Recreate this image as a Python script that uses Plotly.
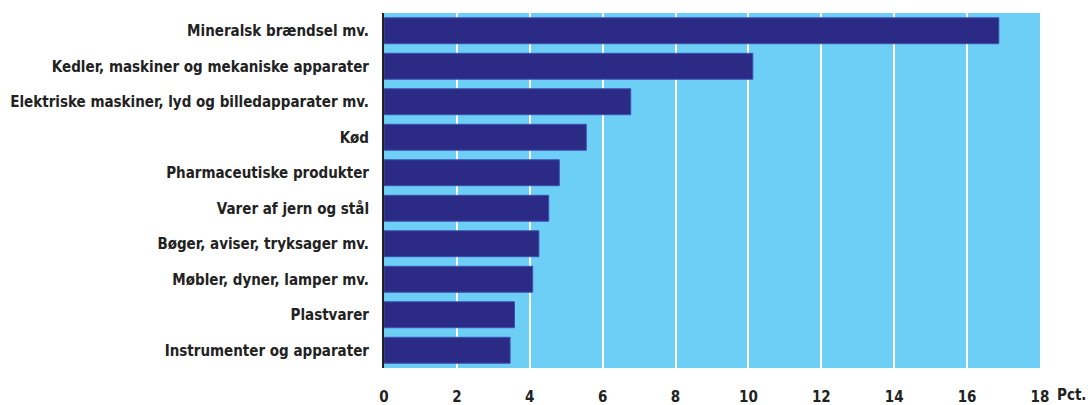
import plotly.graph_objects as go

categories = [
    "Mineralsk brændsel mv.",
    "Kedler, maskiner og mekaniske apparater",
    "Elektriske maskiner, lyd og billedapparater mv.",
    "Kød",
    "Pharmaceutiske produkter",
    "Varer af jern og stål",
    "Bøger, aviser, tryksager mv.",
    "Møbler, dyner, lamper mv.",
    "Plastvarer",
    "Instrumenter og apparater",
]
values = [16.87, 10.12, 6.77, 5.55, 4.81, 4.52, 4.25, 4.08, 3.58, 3.46]
x_ticks = [0, 2, 4, 6, 8, 10, 12, 14, 16, 18]
unit_label = "Pct."

font_family = "DejaVu Sans Condensed, Roboto Condensed, sans-serif"
font_size = 15

fig = go.Figure(
    go.Bar(
        y=categories,
        x=values,
        orientation="h",
        marker=dict(color="#2b2a85", line=dict(color="#3f4fb0", width=1)),
    )
)

fig.update_layout(
    width=1091,
    height=405,
    margin=dict(l=384, r=51, t=13, b=37),
    paper_bgcolor="white",
    plot_bgcolor="#6dcff5",
    bargap=0.27,
    showlegend=False,
    font=dict(family=font_family, size=font_size, color="#222222"),
)

fig.update_xaxes(
    range=[0, 18],
    tickvals=x_ticks,
    ticktext=[f"<b>{t}</b>" for t in x_ticks],
    showgrid=True,
    gridcolor="white",
    gridwidth=2,
    zeroline=False,
    showline=False,
    automargin=False,
    ticklabelstandoff=18,
    tickfont=dict(size=font_size, family=font_family, color="#222222"),
)

fig.update_yaxes(
    categoryorder="array",
    categoryarray=categories[::-1],
    tickvals=categories,
    ticktext=[f"<b>{c}</b>" for c in categories],
    showgrid=False,
    showline=True,
    linecolor="#222222",
    linewidth=2,
    automargin=False,
    ticklabelstandoff=10,
    tickfont=dict(size=font_size, family=font_family, color="#222222"),
)

fig.add_annotation(
    x=1.0, y=0, xref="paper", yref="paper",
    text=f"<b>{unit_label}</b>",
    showarrow=False,
    xanchor="left", yanchor="middle",
    xshift=16, yshift=-27,
    borderpad=0,
    font=dict(size=font_size, family=font_family, color="#222222"),
)

fig.write_html(
    "out.html",
    config={"displayModeBar": False},
    post_script="document.body.style.margin='0';",
)
